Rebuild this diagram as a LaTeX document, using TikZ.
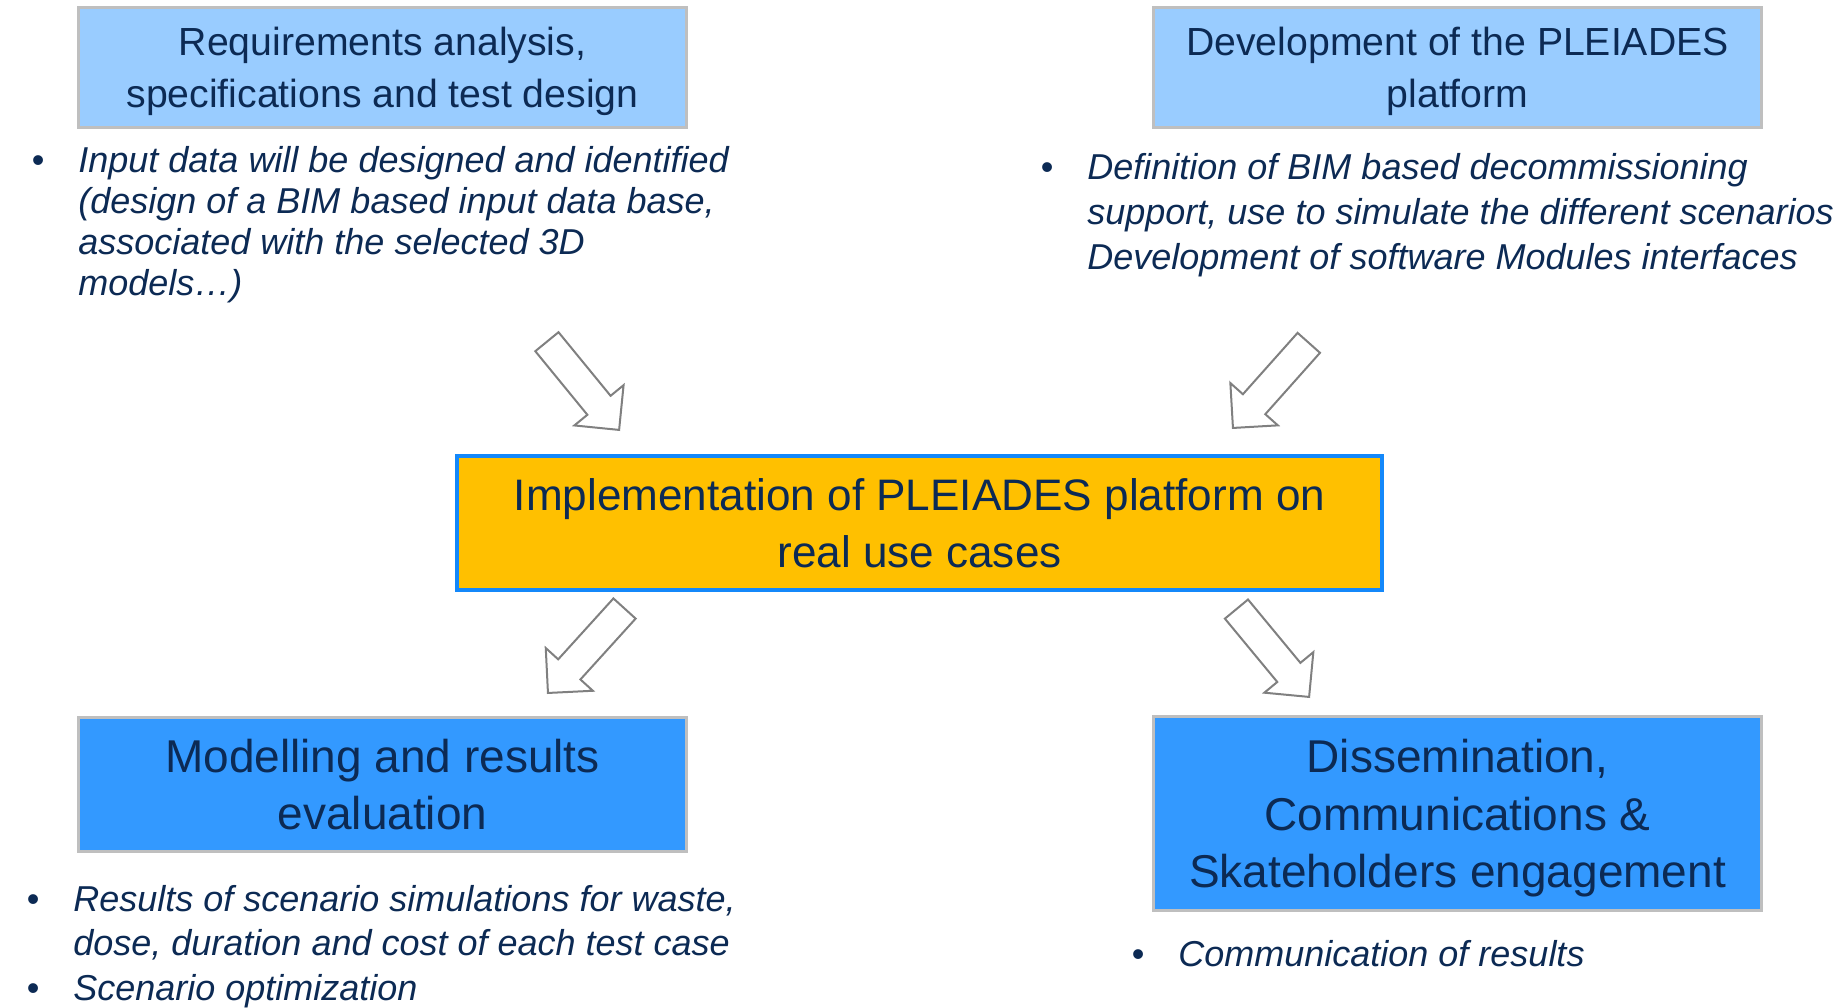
\documentclass[tikz,border=0pt]{standalone}
\usepackage{fontspec}
\setmainfont{Liberation Sans}
\usepackage{xcolor}
\usepackage{tikz}
\usetikzlibrary{shapes.arrows}

\definecolor{navy}{RGB}{12,42,84}
\definecolor{paleblue}{RGB}{153,204,255}
\definecolor{midblue}{RGB}{51,153,255}
\definecolor{amber}{RGB}{255,192,0}
\definecolor{edgeblue}{RGB}{20,136,250}
\definecolor{edgegray}{RGB}{191,191,191}
\definecolor{arrowgray}{RGB}{128,128,128}

\newcommand{\notebullet}{\llap{\upshape\textbullet\hspace{17pt}}}

\begin{document}
\begin{tikzpicture}[x=0.5pt,y=-0.5pt,
    every node/.style={text=navy,inner sep=0pt},
    topbox/.style={draw=edgegray,fill=paleblue,line width=1.6pt,align=center,
      minimum width=304pt,minimum height=60pt,text depth=0pt,
      font=\fontsize{19.6}{26}\selectfont},
    midbox/.style={draw=edgeblue,fill=amber,line width=1.6pt,align=center,
      minimum width=462.5pt,minimum height=67pt,
      font=\fontsize{22.05}{28.5}\selectfont},
    lowbox/.style={draw=edgegray,fill=midblue,line width=1.6pt,align=center,
      minimum width=304pt,text depth=0pt,
      font=\fontsize{23}{28.8}\selectfont},
    notes/.style={align=left,anchor=base west,
      font=\fontsize{18}{#1}\selectfont\itshape},
    hollow/.style={shape=single arrow,draw=arrowgray,fill=white,line width=1pt,
      single arrow head extend=8.4pt,single arrow tip angle=90,
      inner xsep=0pt,inner ysep=7pt,minimum height=57pt,anchor=tip}]
      \useasboundingbox (0,0) rectangle (1839,1007);

      \node[topbox] (reqs) at (382.5,67.5) {Requirements analysis,\\specifications and test design};
      \node[topbox] (devel) at (1457.5,67.5) {Development of the PLEIADES\\platform};
      \node[midbox] (impl) at (919.5,523) {Implementation of PLEIADES platform on\\real use cases};
      \node[lowbox,minimum height=67pt] (model) at (382.5,784.5) {Modelling and results\\evaluation};
      \node[lowbox,minimum height=97pt] (dissem) at (1457.5,813.5)
        {Dissemination,\\Communications \&\\Skateholders engagement};

      % base of these nodes is the baseline of their last line
      \node[notes=20.5] (reqsnotes) at (78,295) {\notebullet Input data will be designed and identified\\
        (design of a BIM based input data base,\\associated with the selected 3D\\models…)};
      \node[notes=22.5] (develnotes) at (1087,269) {\notebullet Definition of BIM based decommissioning\\
        support, use to simulate the different scenarios\\Development of software Modules interfaces};
      \node[notes=22.25] (modelnotes) at (73,1000) {\notebullet Results of scenario simulations for waste,\\
        dose, duration and cost of each test case\\\notebullet Scenario optimization};
      \node[notes=22.5] (dissemnotes) at (1178,966) {\notebullet Communication of results};

      \node[hollow,rotate=-50.7] (reqsarrow) at (620,431) {};
      \node[hollow,rotate=-131.7] (develarrow) at (1232,429) {};
      \node[hollow,rotate=-132.2] (modelarrow) at (547,694) {};
      \node[hollow,rotate=-50.4] (dissemarrow) at (1310,698) {};
    \end{tikzpicture}
\end{document}
